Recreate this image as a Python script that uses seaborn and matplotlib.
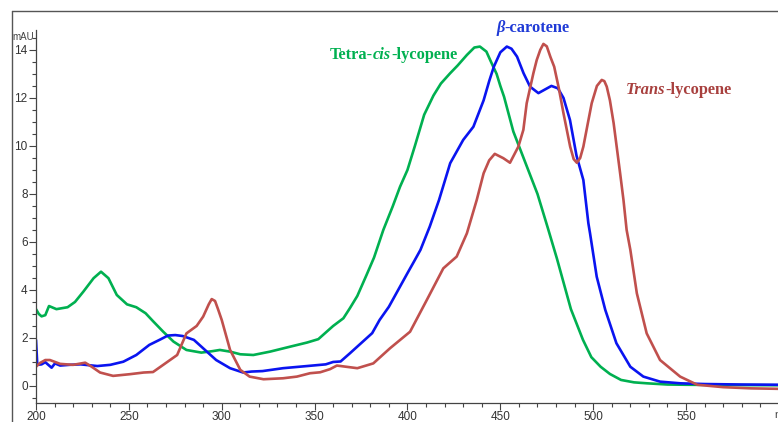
import seaborn as sns
import matplotlib.pyplot as plt
import pandas as pd
from matplotlib.lines import Line2D
from matplotlib.offsetbox import TextArea, HPacker, AnnotationBbox
from matplotlib.ticker import MultipleLocator

# Absorbance spectra (mAU)
tetra_nm = [200, 201.5, 203, 205, 207, 211, 217, 221, 225.5, 231, 235, 239, 243.5,
            249, 254, 259, 263, 268.5, 274, 281, 289, 295, 299, 304.5, 310, 317,
            326, 337, 346, 352, 356.5, 360, 365.5, 369, 373, 378, 382, 387, 392,
            396, 400, 404, 409, 414, 418, 423, 427, 432, 436, 439, 442.5, 445,
            448, 450, 452, 457, 464, 470, 475.5, 480.5, 483, 488, 494.5, 499, 504,
            509, 515, 522, 529, 540, 550, 570, 600]
tetra_mau = [3.2, 3.0, 2.9, 2.95, 3.33, 3.2, 3.28, 3.5, 3.93, 4.49, 4.76, 4.49, 3.79,
             3.4, 3.28, 3.03, 2.7, 2.26, 1.85, 1.5, 1.39, 1.45, 1.5, 1.43, 1.32, 1.29,
             1.43, 1.64, 1.81, 1.95, 2.26, 2.5, 2.82, 3.24, 3.75, 4.63, 5.35, 6.5, 7.47,
             8.3, 9.0, 10.0, 11.3, 12.1, 12.6, 13.03, 13.35, 13.79, 14.1, 14.14, 13.93,
             13.5, 13.0, 12.5, 12.05, 10.6, 9.2, 8.0, 6.6, 5.3, 4.6, 3.2, 1.92, 1.2,
             0.8, 0.5, 0.25, 0.15, 0.11, 0.06, 0.05, 0.04, 0.03]

beta_nm = [200, 200.7, 203, 205, 208.4, 210.2, 213, 218, 224, 233, 240, 247, 254, 261,
           267, 271, 275, 279, 285, 290, 297, 304.5, 311.5, 316, 322, 333, 346, 356,
           360, 364, 369, 376, 381, 385, 390, 394, 400, 404, 407, 412, 417, 423, 430,
           435.5, 441, 444, 446.5, 450, 453.5, 456, 459, 462.5, 466, 470.5, 474,
           477.5, 481, 484, 487.5, 491, 494.7, 497.4, 498.3, 501.9, 506.5, 512.5,
           520, 527, 536, 547, 560, 580, 600]
beta_mau = [1.92, 0.88, 0.9, 0.99, 0.76, 0.94, 0.85, 0.88, 0.9, 0.83, 0.88, 1.01, 1.29,
            1.71, 1.94, 2.1, 2.12, 2.08, 1.92, 1.57, 1.08, 0.74, 0.56, 0.6, 0.62, 0.74,
            0.83, 0.9, 1.0, 1.02, 1.36, 1.85, 2.2, 2.75, 3.3, 3.86, 4.7, 5.25, 5.67,
            6.64, 7.75, 9.28, 10.25, 10.8, 11.9, 12.7, 13.3, 13.9, 14.14, 14.05, 13.72,
            13.03, 12.47, 12.2, 12.35, 12.5, 12.4, 12.0, 11.08, 9.6, 8.58, 6.78, 6.36,
            4.55, 3.17, 1.78, 0.8, 0.39, 0.18, 0.11, 0.08, 0.06, 0.05]

trans_nm = [200, 202, 205, 207.5, 213, 220, 226.5, 230, 234.5, 241.5, 250.5, 258, 263,
            268.5, 276, 281, 286.5, 290, 293, 294.6, 296.4, 298, 300, 304.5, 310, 315,
            322.5, 333, 340.5, 347.5, 353, 358.3, 362, 367, 373, 381.6, 390.6, 401.4,
            410.4, 419.3, 426.5, 432, 437.3, 441, 444, 447, 451.6, 455.2, 459.7,
            462.4, 464.2, 467.8, 469.6, 471.5, 473.2, 475, 477, 479, 481.5, 484,
            487.6, 489.5, 491.2, 493, 494.7, 497, 499.2, 502, 504.6, 506, 507.3, 509,
            511, 514.5, 516.3, 518, 520, 523.5, 528.8, 536, 546.8, 556, 570, 585, 600]
trans_mau = [0.8, 0.95, 1.08, 1.08, 0.92, 0.88, 0.97, 0.8, 0.56, 0.42, 0.49, 0.56, 0.58,
             0.88, 1.29, 2.19, 2.5, 2.89, 3.4, 3.62, 3.54, 3.2, 2.75, 1.5, 0.67, 0.39,
             0.28, 0.32, 0.39, 0.53, 0.57, 0.7, 0.85, 0.8, 0.74, 0.94, 1.57, 2.26, 3.58,
             4.9, 5.39, 6.36, 7.75, 8.86, 9.4, 9.67, 9.49, 9.3, 9.97, 10.67, 11.78,
             13.03, 13.58, 14.0, 14.25, 14.15, 13.7, 13.3, 12.4, 11.36, 9.97, 9.45,
             9.3, 9.5, 9.97, 10.9, 11.78, 12.5, 12.75, 12.7, 12.47, 11.9, 10.95, 8.86,
             7.75, 6.5, 5.67, 3.86, 2.19, 1.08, 0.39, 0.05, -0.05, -0.1, -0.12]

series_names = ["Tetra-cis-lycopene", "beta-carotene", "Trans-lycopene"]
line_colors = {"Tetra-cis-lycopene": "#00B050",
               "beta-carotene": "#0A14F0",
               "Trans-lycopene": "#C0504D"}

df = pd.concat([
    pd.DataFrame({"nm": tetra_nm, "mAU": tetra_mau, "compound": series_names[0]}),
    pd.DataFrame({"nm": beta_nm, "mAU": beta_mau, "compound": series_names[1]}),
    pd.DataFrame({"nm": trans_nm, "mAU": trans_mau, "compound": series_names[2]}),
])

sns.set_style("ticks")
plt.rcParams["font.family"] = ["Liberation Sans", "DejaVu Sans"]

fig = plt.figure(figsize=(7.78, 4.22), dpi=100)
ax = fig.add_axes([36 / 778, 1 - 403 / 422, 1 - 36 / 778, (403 - 30) / 422])

sns.lineplot(data=df, x="nm", y="mAU", hue="compound", palette=line_colors,
             estimator=None, sort=False, linewidth=1.9, legend=False, ax=ax)

ax.set_xlim(200, 599.5)
ax.set_ylim(-0.71, 14.83)
ax.set_xlabel("")
ax.set_ylabel("")
ax.xaxis.set_major_locator(MultipleLocator(50))
ax.xaxis.set_minor_locator(MultipleLocator(10))
ax.yaxis.set_major_locator(MultipleLocator(2))
ax.yaxis.set_minor_locator(MultipleLocator(0.5))
ax.tick_params(axis="both", which="major", length=5, width=0.8, color="#444",
               labelsize=8.5, labelcolor="#333", pad=1)
ax.tick_params(axis="both", which="minor", length=3, width=0.8, color="#444")
for side in ["top", "right"]:
    ax.spines[side].set_visible(False)
for side in ["left", "bottom"]:
    ax.spines[side].set_color("#444")
    ax.spines[side].set_linewidth(0.9)

# unit labels (the x unit sits at the window edge, partly cut off as in the source)
ax.text(199, 14.55, "mAU", ha="right", va="center", fontsize=7, color="#444")
fig.text(774 / 778, 1 - 415 / 422, "nm", ha="left", va="center", fontsize=8, color="#444")

# outer window frame
fig.add_artist(Line2D([12 / 778, 12 / 778], [0, 1 - 11 / 422], transform=fig.transFigure,
                      color="#555", linewidth=1.0))
fig.add_artist(Line2D([12 / 778, 1], [1 - 11 / 422, 1 - 11 / 422], transform=fig.transFigure,
                      color="#555", linewidth=1.0))


def mixed_label(parts, color, xy, align):
    boxes = [TextArea(t, textprops=dict(color=color, fontsize=11.8, fontweight="bold",
                                        fontstyle=s, family="Liberation Serif"))
             for t, s in parts]
    pack = HPacker(children=boxes, align="baseline", pad=0, sep=0)
    ab = AnnotationBbox(pack, xy, xycoords="data", frameon=False, box_alignment=align,
                        annotation_clip=False)
    ax.add_artist(ab)


mixed_label([("Tetra-", "normal"), ("cis", "italic"), ("-lycopene", "normal")],
            "#00B050", (358.3, 13.8), (0, 0.5))
mixed_label([("\u03b2", "italic"), ("-carotene", "normal")],
            "#1F3AD6", (467.5, 14.9), (0.5, 0.5))
mixed_label([("Trans", "italic"), ("-lycopene", "normal")],
            "#A8403E", (517.5, 12.35), (0, 0.5))

fig.savefig("out.png", dpi=100)
